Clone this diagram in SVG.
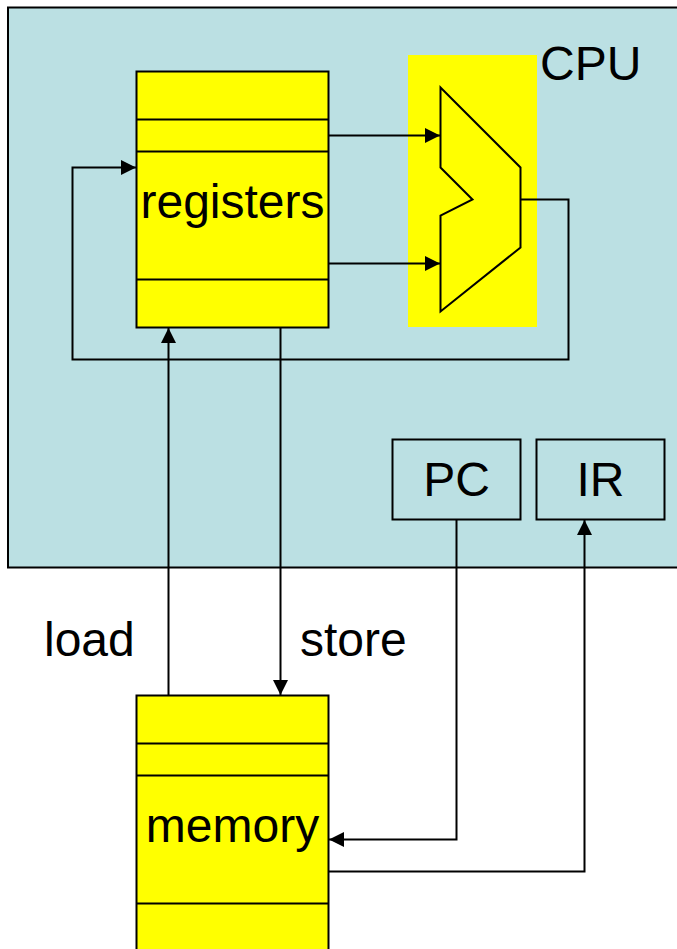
<svg xmlns="http://www.w3.org/2000/svg" width="677" height="949" viewBox="0 0 677 949">
<style>
.s{stroke:#000;stroke-width:2;}
.y{fill:#ffff00;}
.l{fill:none;stroke:#000;stroke-width:2;}
.c{fill:none;stroke:#000;stroke-width:2;}
text{font-family:"Liberation Sans",Arial,sans-serif;font-size:48px;fill:#000;}
.m{text-anchor:middle;}
</style>
<defs>
<marker id="a" markerUnits="userSpaceOnUse" markerWidth="16" markerHeight="16" refX="15" refY="8" orient="auto"><path d="M0 0.5L15 8L0 15.5Z" fill="#000"/></marker>
</defs>
<rect width="677" height="949" fill="#fff"/>
<g id="cpu"><rect class="s" x="8" y="7.500" width="680" height="560" fill="#bbe0e3"/><text x="540" y="80">CPU</text></g>
<g id="alu-bg"><rect x="408" y="55" width="129" height="272" fill="#ffff00"/></g>
<g id="registers"><rect class="s y" x="136.500" y="71.500" width="192" height="256"/><path class="l" d="M136.500 119.500H328.500M136.500 151.500H328.500M136.500 279.500H328.500"/><text class="m" x="232.500" y="218">registers</text></g>
<g id="alu"><path class="s y" d="M440.500 87.500L520.500 167.500V247.500L440.500 311.500V215.500L472.500 199.500L440.500 167.500Z"/></g>
<g id="pc"><rect class="s" x="392.500" y="439.500" width="128" height="80" fill="#bbe0e3"/><text class="m" x="456.500" y="496">PC</text></g>
<g id="ir"><rect class="s" x="536.500" y="439.500" width="128" height="80" fill="#bbe0e3"/><text class="m" x="600.500" y="496">IR</text></g>
<g id="memory"><rect class="s y" x="136.500" y="695.500" width="192" height="270"/><path class="l" d="M136.500 743.500H328.500M136.500 775.500H328.500M136.500 903.500H328.500"/><text class="m" x="232.500" y="842">memory</text></g>
<g id="labels"><text x="44" y="656">load</text><text x="300" y="656">store</text></g>
<g id="connectors">
<path class="c" d="M328.500 135.500H440" marker-end="url(#a)"/>
<path class="c" d="M328.500 263.500H440" marker-end="url(#a)"/>
<path class="c" d="M520.500 199.500H568.500V359.500H72.500V167.500H136" marker-end="url(#a)"/>
<path class="c" d="M168.500 695.500V328" marker-end="url(#a)"/>
<path class="c" d="M280.500 327.500V695" marker-end="url(#a)"/>
<path class="c" d="M456.500 519.500V839.500H329" marker-end="url(#a)"/>
<path class="c" d="M328.500 871.500H584.500V520" marker-end="url(#a)"/>
</g>
</svg>
